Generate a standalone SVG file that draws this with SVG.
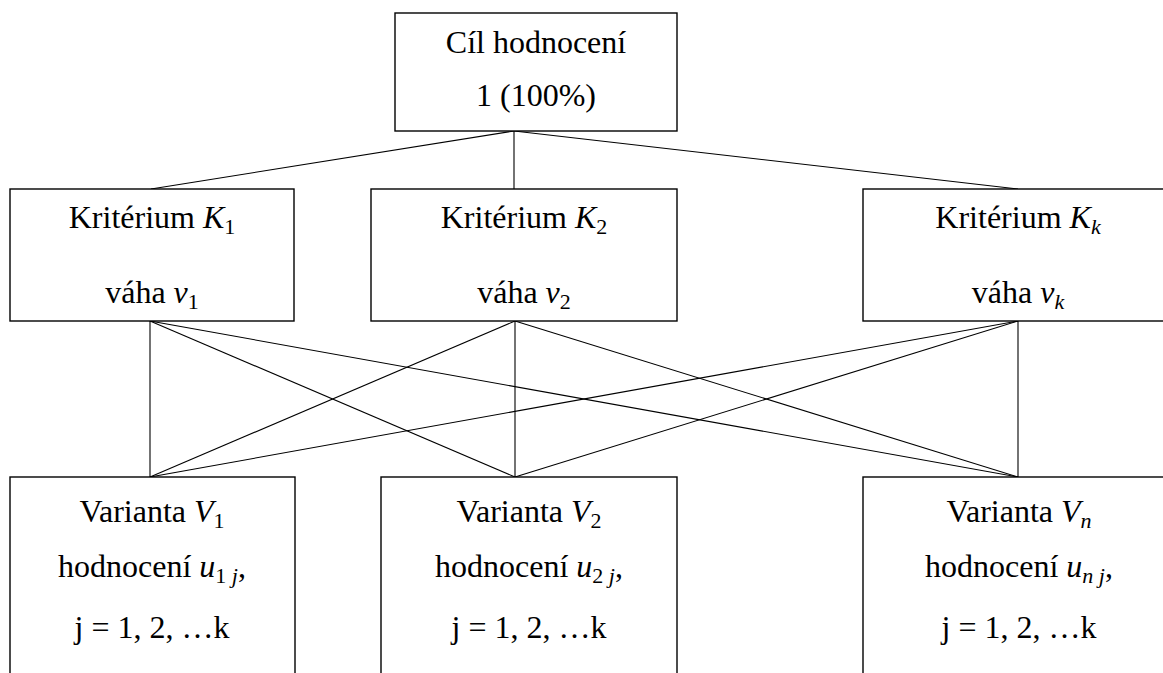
<svg xmlns="http://www.w3.org/2000/svg" width="1163" height="673" viewBox="0 0 1163 673">
<style>
  .box { fill: #ffffff; stroke: #000000; stroke-width: 1.4; }
  .conn line { stroke: #000000; stroke-width: 1.1; }
  .t { font-family: 'Liberation Serif', 'Times New Roman', Times, 'DejaVu Serif', 'Noto Serif', serif; font-size: 32px; fill: #000000; text-anchor: middle; }
  .m { font-style: italic; }
  .s { font-size: 22px; }
</style>
<rect x="0" y="0" width="1163" height="673" fill="#ffffff"/>
<g id="connectors" class="conn">
  <line x1="514" y1="131" x2="151" y2="189"/>
  <line x1="514" y1="131" x2="514" y2="189"/>
  <line x1="514" y1="131" x2="1018" y2="189"/>
  <line x1="150" y1="321" x2="150" y2="477"/>
  <line x1="150" y1="321" x2="515" y2="477"/>
  <line x1="150" y1="321" x2="1018" y2="477"/>
  <line x1="515" y1="321" x2="150" y2="477"/>
  <line x1="515" y1="321" x2="515" y2="477"/>
  <line x1="515" y1="321" x2="1018" y2="477"/>
  <line x1="1018" y1="321" x2="150" y2="477"/>
  <line x1="1018" y1="321" x2="515" y2="477"/>
  <line x1="1018" y1="321" x2="1018" y2="477"/>
</g>
<g id="goal">
  <rect class="box" x="395" y="13" width="282" height="118"/>
  <text class="t" font-family="Liberation Serif, serif" x="536" y="53">Cíl hodnocení</text>
  <text class="t" font-family="Liberation Serif, serif" x="536" y="106">1 (100%)</text>
</g>
<g id="k1">
  <rect class="box" x="10" y="189" width="284" height="132"/>
  <text class="t" x="152" y="228">Kritérium <tspan class="m">K</tspan><tspan class="s" dy="6">1</tspan></text>
  <text class="t" x="152" y="303">váha <tspan class="m">v</tspan><tspan class="s" dy="6">1</tspan></text>
</g>
<g id="k2">
  <rect class="box" x="371" y="189" width="306" height="132"/>
  <text class="t" x="524" y="228">Kritérium <tspan class="m">K</tspan><tspan class="s" dy="6">2</tspan></text>
  <text class="t" x="524" y="303">váha <tspan class="m">v</tspan><tspan class="s" dy="6">2</tspan></text>
</g>
<g id="kk">
  <rect class="box" x="863" y="189" width="320" height="132"/>
  <text class="t" x="1018" y="228">Kritérium <tspan class="m">K</tspan><tspan class="s m" dy="6">k</tspan></text>
  <text class="t" x="1018" y="303">váha <tspan class="m">v</tspan><tspan class="s m" dy="6">k</tspan></text>
</g>
<g id="v1">
  <rect class="box" x="10" y="477" width="285" height="220"/>
  <text class="t" x="152" y="522">Varianta <tspan class="m">V</tspan><tspan class="s" dy="6">1</tspan></text>
  <text class="t" x="152" y="577">hodnocení <tspan class="m">u</tspan><tspan class="s" dy="6">1</tspan><tspan class="s m"> j</tspan><tspan dy="-6">,</tspan></text>
  <text class="t" x="152" y="638">j = 1, 2, …k</text>
</g>
<g id="v2">
  <rect class="box" x="381" y="477" width="296" height="220"/>
  <text class="t" x="529" y="522">Varianta <tspan class="m">V</tspan><tspan class="s" dy="6">2</tspan></text>
  <text class="t" x="529" y="577">hodnocení <tspan class="m">u</tspan><tspan class="s" dy="6">2</tspan><tspan class="s m"> j</tspan><tspan dy="-6">,</tspan></text>
  <text class="t" x="529" y="638">j = 1, 2, …k</text>
</g>
<g id="vn">
  <rect class="box" x="863" y="477" width="320" height="220"/>
  <text class="t" x="1019" y="522">Varianta <tspan class="m">V</tspan><tspan class="s m" dy="6">n</tspan></text>
  <text class="t" x="1019" y="577">hodnocení <tspan class="m">u</tspan><tspan class="s m" dy="6">n j</tspan><tspan dy="-6">,</tspan></text>
  <text class="t" x="1019" y="638">j = 1, 2, …k</text>
</g>
</svg>
